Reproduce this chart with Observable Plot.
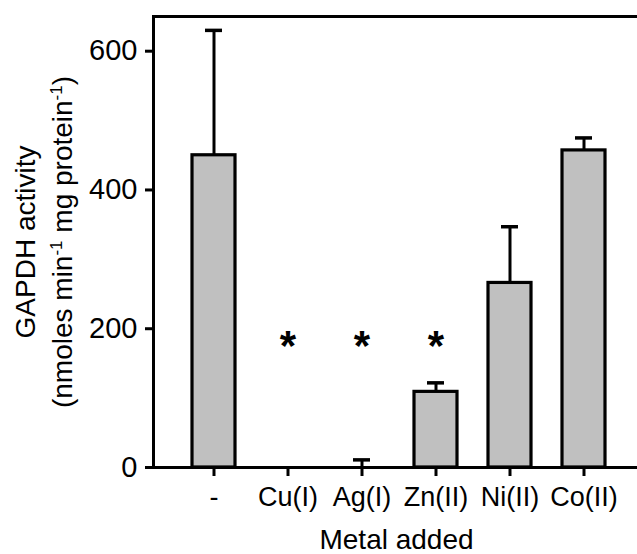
<!DOCTYPE html>
<html>
<head>
<meta charset="utf-8">
<script src="https://cdn.jsdelivr.net/npm/d3@7"></script>
<script src="https://cdn.jsdelivr.net/npm/@observablehq/plot@0.6"></script>
<style>
  body { margin: 0; background: #fff; overflow: hidden; }
</style>
</head>
<body>
<div id="chart"></div>
<script>
// GAPDH activity after addition of each metal ion (mean with SEM error bars)
const metals = ["-", "Cu(I)", "Ag(I)", "Zn(II)", "Ni(II)", "Co(II)"];
const activity = [450, 0, 0, 109, 266, 457];
const sem = [180, 0, 11, 13, 81, 18];
const significant = ["Cu(I)", "Ag(I)", "Zn(II)"];
const yTicks = [0, 200, 400, 600];

const xTitle = "Metal added";
const yTitle1 = "GAPDH activity";
// second title line; flagged pieces are set as superscripts
const yTitle2Parts = [
  ["(nmoles min", false],
  ["-1", true],
  [" mg protein", false],
  ["-1", true],
  [")", false]
];
const yTitle2 = yTitle2Parts.map(p => p[0]).join("");

const rows = metals.map((metal, i) => ({metal, activity: activity[i], sem: sem[i]}));
const withError = rows.filter(d => d.sem > 0);
const starLevel = 183;
const tickDepth = 13; // category tick length below the baseline, in y units
const font = "'Liberation Sans', Arial, sans-serif";

const chart = Plot.plot({
  width: 637,
  height: 554,
  marginLeft: 153,
  marginRight: -2,
  marginTop: 16,
  marginBottom: 87,
  style: {fontFamily: font, background: "#fff", color: "#000", overflow: "hidden"},
  x: {domain: metals, range: [153, 644], paddingInner: 0.42, paddingOuter: 0.5186, align: 0.5},
  y: {domain: [0, 650]},
  marks: [
    Plot.barY(rows.filter(d => d.activity > 0), {
      x: "metal", y: "activity", fill: "#c0c0c0", stroke: "#000", strokeWidth: 3.2
    }),
    Plot.ruleX(withError, {
      x: "metal", y1: "activity", y2: d => d.activity + d.sem, stroke: "#000", strokeWidth: 3
    }),
    Plot.tickY(withError, {
      x: "metal", y: d => d.activity + d.sem, insetLeft: 13, insetRight: 13, stroke: "#000", strokeWidth: 3.5
    }),
    Plot.text(significant, {
      x: d => d, y: () => starLevel, text: () => "*", fontSize: 42, fontWeight: "bold", dy: 6, fill: "#000"
    }),
    Plot.frame({stroke: "#000", strokeWidth: 3}),
    // category ticks hanging below the baseline
    Plot.ruleX(metals, {x: d => d, y1: () => 0, y2: () => -tickDepth, stroke: "#000", strokeWidth: 3}),
    Plot.axisY({ticks: yTicks, tickSize: 8, tickPadding: 8, fontSize: 29, stroke: "#000", strokeWidth: 3, label: null}),
    Plot.axisX({tickSize: 0, tickPadding: 19, fontSize: 27, label: null}),
    Plot.text([xTitle], {text: d => d, frameAnchor: "bottom", lineAnchor: "bottom", dy: 81, fontSize: 28}),
    Plot.text([yTitle1], {
      text: d => d, frameAnchor: "left", textAnchor: "middle", lineAnchor: "middle",
      rotate: -90, dx: -127, fontSize: 28
    }),
    Plot.text([yTitle2], {
      text: d => d, frameAnchor: "left", textAnchor: "middle", lineAnchor: "middle",
      rotate: -90, dx: -90, fontSize: 28
    })
  ]
});

// rebuild the second title line with superscript exponents
d3.select(chart).selectAll("text")
  .filter(function () { return this.textContent === yTitle2; })
  .each(function () {
    const t = d3.select(this);
    t.text(null);
    let raised = false;
    for (const [s, sup] of yTitle2Parts) {
      const span = t.append("tspan").text(s);
      if (sup && !raised) { span.attr("font-size", 17).attr("dy", -10); raised = true; }
      else if (!sup && raised) { span.attr("dy", 10); raised = false; }
    }
  });

document.getElementById("chart").appendChild(chart);
</script>
</body>
</html>
